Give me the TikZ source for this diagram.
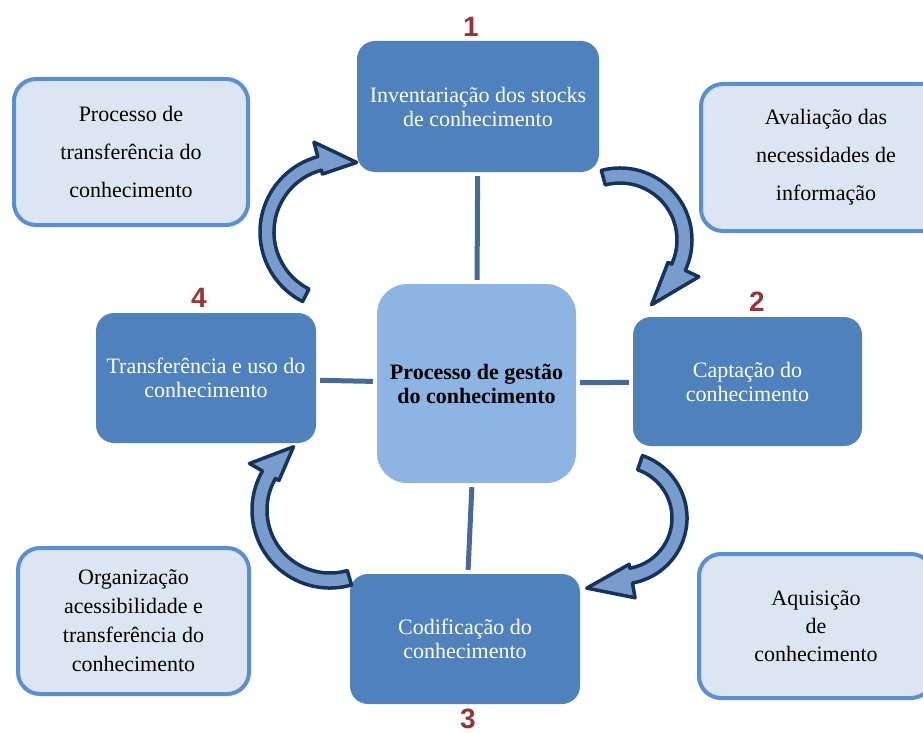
\documentclass[tikz,border=0pt]{standalone}
\usepackage{fontspec}
\setmainfont{Liberation Serif}
\newfontfamily\numfont{Liberation Sans}
\usetikzlibrary{calc}
\definecolor{stageblue}{HTML}{4F81BD}
\definecolor{coreblue}{HTML}{8EB4E3}
\definecolor{notefill}{HTML}{DCE6F2}
\definecolor{noteline}{HTML}{5B8FD3}
\definecolor{linkblue}{HTML}{47699A}
\definecolor{arrowfill}{HTML}{7A9CCC}
\definecolor{arrowline}{HTML}{15345A}
\definecolor{numred}{HTML}{953735}
\begin{document}
\begin{tikzpicture}[x=1pt,y=-1pt,
  stage/.style={fill=stageblue, text=white, rounded corners=18pt, align=center, inner sep=0pt, font=\fontsize{22}{24}\selectfont},
  core/.style={fill=coreblue, rounded corners=30pt, align=center, inner sep=0pt, font=\bfseries\fontsize{22}{24}\selectfont},
  note/.style={fill=notefill, draw=noteline, line width=4pt, rounded corners=22pt, align=center, inner sep=0pt, font=\fontsize{22}{38}\selectfont},
  stepnum/.style={text=numred, font=\numfont\bfseries\fontsize{28}{28}\selectfont},
  link/.style={draw=linkblue, line width=5pt, shorten >=4pt, shorten <=4pt},
  cyclearrow/.style={fill=arrowfill, draw=arrowline, line width=3.5pt, line join=round}]
\useasboundingbox (0,0) rectangle (923,733);
% side notes
\node[note, minimum width=234pt, minimum height=146pt] (notetransf) at (131,152) {Processo de\\transferência do\\conhecimento};
\node[note, minimum width=250pt, minimum height=147pt] (noteaval) at (826,157.5) {Avaliação das\\necessidades de\\informação};
\node[note, minimum width=231pt, minimum height=146pt, font=\fontsize{22}{29}\selectfont] (noteorg) at (133.5,621) {Organização\\acessibilidade e\\transferência do\\conhecimento};
\node[note, minimum width=234pt, minimum height=144pt, font=\fontsize{22}{28}\selectfont] (noteaquis) at (816,626) {Aquisição\\de\\conhecimento};
% the four stages and the core
\node[core, minimum width=199pt, minimum height=199pt] (gestao) at (476.5,383.5) {Processo de gestão\\do conhecimento};
\node[stage, minimum width=242pt, minimum height=131pt] (inv) at (478,106.5) {Inventariação dos stocks\\de conhecimento};
\node[stage, minimum width=229pt, minimum height=129pt] (capt) at (747.5,381.5) {Captação do\\conhecimento};
\node[stage, minimum width=230pt, minimum height=130pt] (cod) at (465,639) {Codificação do\\conhecimento};
\node[stage, minimum width=220pt, minimum height=130pt] (transf) at (206,378) {Transferência e uso do\\conhecimento};
% numbers
\foreach \n/\x/\y in {1/471/27,2/757/302,3/468/719,4/199/298}
\node[stepnum] (num\n) at (\x,\y) {\n};
% links to the core
\foreach \s in {inv,capt,cod,transf}
\draw[link] (gestao) -- (\s);
% curved arrows: centre / inner and outer radius / tail and head angle / tip
\foreach \cx/\cy/\ri/\ro/\a/\b/\t/\rt in {620/240/57/72/-105/25/64/72,621/518/51/66/-71/80/116/78,330/510/63/78/74/210/240/73,338/232/64/78/117/255/285/72}
\draw[cyclearrow] ($(\cx,\cy)+(\a:\ro)$) arc[start angle=\a, end angle=\b, radius=\ro]
  -- ($(\cx,\cy)+(\b:\ro+15)$) -- ($(\cx,\cy)+(\t:\rt)$) -- ($(\cx,\cy)+(\b:\ri-4)$)
  -- ($(\cx,\cy)+(\b:\ri)$) arc[start angle=\b, end angle=\a, radius=\ri] -- cycle;
\end{tikzpicture}
\end{document}
